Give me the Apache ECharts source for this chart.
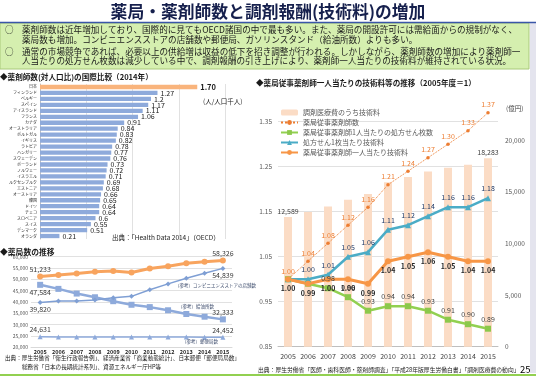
<!DOCTYPE html>
<html><head><meta charset="utf-8">
<script src="https://cdn.jsdelivr.net/npm/echarts@6/dist/echarts.min.js"></script>
<style>html,body{margin:0;padding:0;background:#fff}#c{width:536px;height:379px}</style>
</head><body><div id="c"></div>
<script>
// ---- data ----
const countries = ['日本','フィンランド','ベルギー','スペイン','アイスランド','フランス','カナダ','オーストラリア','ポルトガル','イギリス','ラトビア','ハンガリー','スウェーデン','ポーランド','ノルウェー','イスラエル','ルクセンブルク','エストニア','オーストリア','韓国','ドイツ','チェコ','スロベニア','スイス','デンマーク','オランダ'];
const pharmacistsPer1000 = [1.70,1.27,1.2,1.17,1.11,1.06,0.91,0.84,0.83,0.82,0.78,0.77,0.76,0.73,0.72,0.71,0.69,0.68,0.66,0.65,0.64,0.64,0.6,0.55,0.51,0.21];

const years = ['2005','2006','2007','2008','2009','2010','2011','2012','2013','2014','2015'];
const pharmacyCount = [51233,51952,52539,53304,53642,53001,54780,55797,57071,57784,58326];
const convenienceStores = [39820,40400,40400,40900,41900,42500,45400,48000,50500,52700,54839];
const gasStations = [47584,45792,43723,42090,40357,38777,37743,36349,34706,33510,32333];
const postOffices = [24631,24600,24580,24560,24540,24530,24520,24510,24500,24480,24452];

const techFeeOkuYen = [12589,13050,13600,14250,14800,15950,16450,17000,17350,17650,18283];
const pharmacistIndex = [1.00,1.04,1.08,1.12,1.16,1.21,1.24,1.27,1.30,1.33,1.37];
const rxPerPharmacistIndex = [1.00,0.99,0.98,0.96,0.93,0.94,0.94,0.93,0.91,0.90,0.89];
const feePerRxIndex = [1.00,1.00,1.01,1.05,1.06,1.11,1.12,1.14,1.16,1.16,1.18];
const feePerPharmacistIndex = [1.00,0.99,1.00,1.00,0.99,1.04,1.05,1.06,1.05,1.04,1.04];

const seriesNames = ['調剤医療費のうち技術料','薬局従事薬剤師数','薬局従事薬剤師1人当たりの処方せん枚数','処方せん1枚当たり技術料','薬局従事薬剤師一人当たり技術料'];
const pageTitle = '薬局・薬剤師数と調剤報酬(技術料)の増加';
const summaryLines = [
  '薬剤師数は近年増加しており、国際的に見てもOECD諸国の中で最も多い。また、薬局の開設許可には需給面からの規制がなく、',
  '薬局数も増加。コンビニエンスストアの店舗数や郵便局、ガソリンスタンド（給油所数）よりも多い。',
  '通常の市場競争であれば、必要以上の供給増は収益の低下を招き調整が行われる。しかしながら、薬剤師数の増加により薬剤師一',
  '人当たりの処方せん枚数は減少している中で、調剤報酬の引き上げにより、薬剤師一人当たりの技術料が維持されている状況。'
];

// ---- chart ----
const FF = '"Noto Sans CJK JP", "Noto Sans", sans-serif';
const chart = echarts.init(document.getElementById('c'), null, {renderer:'canvas', width:536, height:379});
const fmtNum = v => Number(v).toLocaleString('en-US');

function txt(x, y, text, size, o) {
  o = o || {};
  return {type:'text', x:x, y:y, z:100, silent:true, style:{
    text:text, fill:o.fill||'#1a1a1a',
    font:(o.bold?'bold ':'')+size+'px '+FF,
    textAlign:o.align||'left', align:o.align||'left',
    textVerticalAlign:'middle', verticalAlign:'middle'}};
}

function endLabels(values, firstPos, lastPos) {
  const n = values.length;
  return values.map((v,i) => {
    if (i === 0) return {value:v, label:{show:true, position:firstPos}};
    if (i === n-1) return {value:v, label:{show:true, position:lastPos}};
    return v;
  });
}

const lblStyle = {fontSize:7, color:'#3a3a3a', fontFamily:FF, distance:1, formatter:p=>fmtNum(p.value)};
const blueL = '#8eaadb';

const graphics = [
  txt(268, 12, pageTitle, 16.8, {bold:true, align:'center', fill:'#16204d'}),
  {type:'rect', z:1, silent:true, shape:{x:0,y:23,width:529,height:46}, style:{fill:'#d5efaf', stroke:'#a9c97a', lineWidth:1}},
  {type:'line', z:2, silent:true, shape:{x1:0,y1:22.5,x2:536,y2:22.5}, style:{stroke:'#3a56a8', lineWidth:1.5}},
  {type:'rect', z:1, silent:true, shape:{x:530,y:23,width:6,height:350}, style:{fill:'#e4e4ee'}},
  txt(5, 30, '○', 8.6), txt(22, 30, summaryLines[0], 8.6),
  txt(22, 39.5, summaryLines[1], 8.6),
  txt(5, 51.5, '○', 8.6), txt(22, 51.5, summaryLines[2], 8.6),
  txt(22, 61, summaryLines[3], 8.6),
  txt(0, 77, '◆薬剤師数(対人口比)の国際比較（2014年）', 7.6, {bold:true}),
  txt(203, 102, '(人/人口千人)', 6.5),
  txt(112, 238, '出典：「Health Data 2014」（OECD）', 6.5),
  txt(0, 252, '◆薬局数の推移', 7.8, {bold:true}),
  txt(175, 285, '（参考）コンビニエンスストアの店舗数', 4.5, {fill:'#3b4a6b'}),
  txt(178, 306, '（参考）給油所数', 4.5, {fill:'#3b4a6b'}),
  txt(182, 341, '（参考）郵便局数', 4.5, {fill:'#3b4a6b'}),
  txt(5, 357.5, '出典：厚生労働省「衛生行政報告例」、経済産業省「商業動態統計」、日本郵便「郵便局局数」', 5.6),
  txt(22, 366.5, '総務省「日本の長期統計系列」、資源エネルギー庁HP等', 5.6),
  txt(256, 83, '◆薬局従事薬剤師一人当たりの技術料等の推移（2005年度＝1）', 7.6, {bold:true}),
  txt(506, 109, '(億円)', 6.5, {fill:'#404040'}),
  txt(258, 370, '出典：厚生労働省「医師・歯科医師・薬剤師調査」「平成28年版厚生労働白書」「調剤医療費の動向」', 5.8),
  txt(520, 369.5, '25', 9.5, {fill:'#000'}),
  {type:'line', z:2, silent:true, shape:{x1:0,y1:375,x2:536,y2:375}, style:{stroke:'#92d050', lineWidth:2}}
];

const option = {
  backgroundColor:'#ffffff',
  animation:false,
  textStyle:{fontFamily:FF},
  graphic:{elements:graphics},
  legend:{
    left:275, top:104, orient:'vertical', itemGap:3, itemWidth:17, itemHeight:6,
    textStyle:{fontSize:7, color:'#595959', fontFamily:FF},
    data:seriesNames, selectedMode:false
  },
  grid:[
    {left:40, top:84, width:185, height:155},
    {left:31, top:256.7, width:201, height:90.6},
    {left:278, top:99.2, width:220, height:247.5}
  ],
  xAxis:[
    {gridIndex:0, type:'value', min:0, max:2, interval:0.5, axisLabel:{show:false}, axisTick:{show:false}, axisLine:{show:false}, splitLine:{lineStyle:{color:'#d9d9d9', width:0.8}}},
    {gridIndex:1, type:'category', data:years, boundaryGap:true, axisTick:{show:false}, axisLine:{lineStyle:{color:'#d9d9d9'}}, axisLabel:{fontSize:5.5, color:'#262626', margin:1.5, fontWeight:'bold', interval:0}},
    {gridIndex:2, type:'category', data:years, boundaryGap:true, axisTick:{show:false}, axisLine:{lineStyle:{color:'#bfbfbf'}}, axisLabel:{fontSize:7, color:'#404040', margin:6, interval:0}}
  ],
  yAxis:[
    {gridIndex:0, type:'category', data:countries, inverse:true, axisTick:{show:false}, axisLine:{lineStyle:{color:'#bfbfbf'}}, axisLabel:{fontSize:4, color:'#262626', margin:3, interval:0}},
    {gridIndex:1, type:'value', min:20000, max:60000, interval:5000, axisLabel:{fontSize:5, color:'#595959', margin:3, formatter:fmtNum}, splitLine:{lineStyle:{color:'#d9d9d9', width:0.8}}, axisLine:{show:false}, axisTick:{show:false}},
    {gridIndex:2, type:'value', min:0.85, max:1.4, interval:0.05, axisLine:{show:false}, axisTick:{show:false},
      axisLabel:{fontSize:6.5, color:'#595959', margin:6, formatter:v => (Math.round(v*100) % 10 === 5) ? v.toFixed(2) : ''},
      splitLine:{lineStyle:{color:['#d9d9d9','rgba(0,0,0,0)'], width:0.8}}},
    {gridIndex:2, type:'value', position:'right', min:0, max:24000, interval:5000, axisLine:{show:false}, axisTick:{show:false}, splitLine:{show:false},
      axisLabel:{fontSize:6.5, color:'#595959', margin:7, showMaxLabel:false, formatter:fmtNum}}
  ],
  series:[
    {type:'bar', xAxisIndex:0, yAxisIndex:0, barWidth:4.3, silent:true,
      itemStyle:{color:'#8eaadb'},
      data:pharmacistsPer1000.map((v,i) => i===0 ? {value:v, itemStyle:{color:'#f9b47c'}, label:{fontWeight:'bold', fontSize:7.5}} : v),
      label:{show:true, position:'right', distance:3, fontSize:7, color:'#1a1a1a', fontFamily:FF,
        formatter:p => p.dataIndex===0 ? p.value.toFixed(2) : String(p.value)}},
    {type:'line', xAxisIndex:1, yAxisIndex:1, silent:true, data:endLabels(postOffices,'top','top'),
      symbol:'triangle', symbolSize:5, lineStyle:{color:blueL, width:1.5}, itemStyle:{color:blueL}, label:{show:false, ...lblStyle}},
    {type:'line', xAxisIndex:1, yAxisIndex:1, silent:true, data:endLabels(gasStations,'bottom','top'),
      symbol:'rect', symbolSize:6, lineStyle:{color:blueL, width:2.5}, itemStyle:{color:blueL}, label:{show:false, ...lblStyle}},
    {type:'line', xAxisIndex:1, yAxisIndex:1, silent:true, data:endLabels(convenienceStores,'bottom','bottom'),
      symbol:'diamond', symbolSize:5, lineStyle:{color:'#7f9fd4', width:1.5}, itemStyle:{color:'#7f9fd4'}, label:{show:false, ...lblStyle}},
    {type:'line', xAxisIndex:1, yAxisIndex:1, silent:true, data:endLabels(pharmacyCount,'top','top'),
      symbol:'circle', symbolSize:6, lineStyle:{color:'#f8a45e', width:3}, itemStyle:{color:'#f8a45e'}, label:{show:false, ...lblStyle}},
    {name:seriesNames[0], type:'bar', xAxisIndex:2, yAxisIndex:3, barWidth:8, silent:true, itemStyle:{color:'#fbdcc5'},
      data:techFeeOkuYen,
      label:{show:true, position:'top', distance:2, fontSize:7, color:'#404040', fontFamily:FF,
        formatter:p => (p.dataIndex===0 || p.dataIndex===techFeeOkuYen.length-1) ? fmtNum(p.value) : ''}},
    {name:seriesNames[1], type:'line', xAxisIndex:2, yAxisIndex:2, silent:true, data:pharmacistIndex,
      symbol:'circle', symbolSize:3.5, lineStyle:{color:'#ed7d31', width:1, type:'dotted'}, itemStyle:{color:'#ed7d31'},
      label:{show:true, position:'top', distance:3, fontSize:7, color:'#ed7d31', fontFamily:FF, formatter:p => p.value.toFixed(2)}},
    {name:seriesNames[2], type:'line', xAxisIndex:2, yAxisIndex:2, silent:true, data:rxPerPharmacistIndex,
      symbol:'rect', symbolSize:6, lineStyle:{color:'#92d050', width:2.5}, itemStyle:{color:'#8cc84b'},
      label:{show:true, position:'top', distance:3, fontSize:7, color:'#404040', fontFamily:FF, formatter:p => p.dataIndex < 2 ? '' : p.value.toFixed(2)}},
    {name:seriesNames[3], type:'line', xAxisIndex:2, yAxisIndex:2, silent:true, data:feePerRxIndex,
      symbol:'triangle', symbolSize:6, lineStyle:{color:'#4bacc6', width:2.5}, itemStyle:{color:'#4bacc6'},
      label:{show:true, position:'top', distance:3, fontSize:7, color:'#1f3864', fontFamily:FF, formatter:p => p.dataIndex === 0 ? '' : p.value.toFixed(2)}},
    {name:seriesNames[4], type:'line', xAxisIndex:2, yAxisIndex:2, silent:true, data:feePerPharmacistIndex,
      symbol:'circle', symbolSize:6, lineStyle:{color:'#f79646', width:3}, itemStyle:{color:'#f79646'},
      label:{show:true, position:'bottom', distance:3, fontSize:7, fontWeight:'bold', color:'#262626', fontFamily:FF, formatter:p => p.value.toFixed(2)}}
  ]
};
chart.setOption(option);
</script></body></html>
